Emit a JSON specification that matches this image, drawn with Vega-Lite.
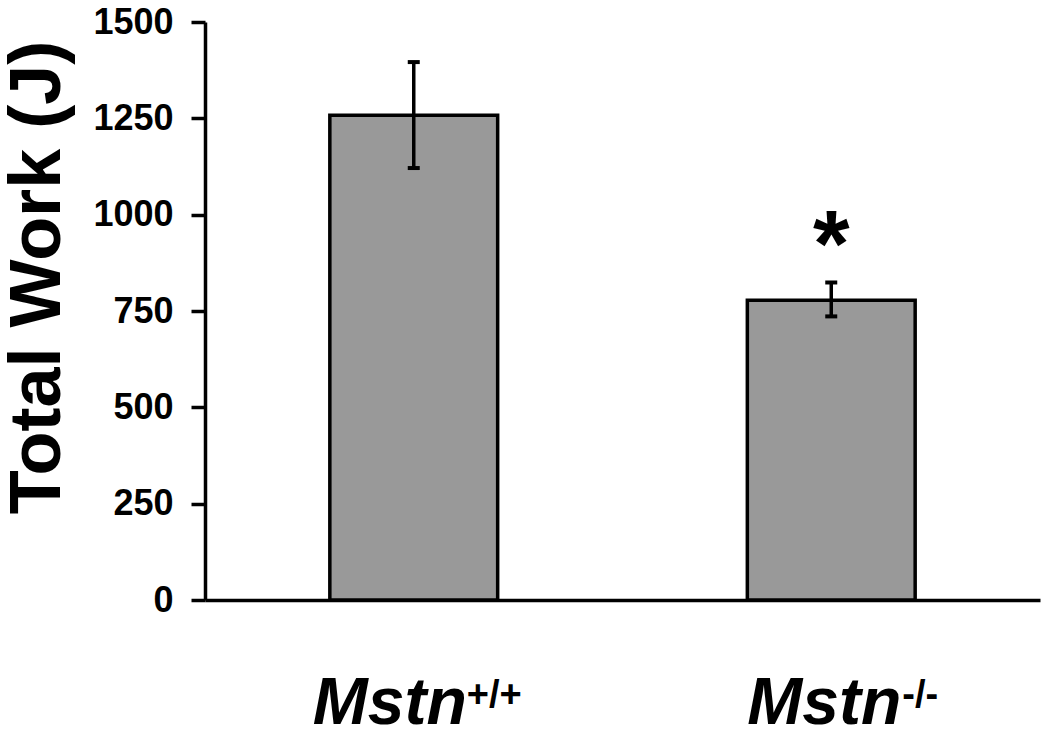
{
  "$schema": "https://vega.github.io/schema/vega-lite/v6.json",
  "width": 835,
  "height": 578,
  "autosize": {"type": "none"},
  "padding": {"left": 205, "top": 22, "right": 10, "bottom": 131},
  "background": "white",
  "config": {"view": {"stroke": null}, "font": "Liberation Sans"},
  "data": {"values": [
    {"genotype": "+/+", "work": 1258, "lower": 1121, "upper": 1396, "sig": ""},
    {"genotype": "-/-", "work": 778, "lower": 736, "upper": 824, "sig": "*"}
  ]},
  "resolve": {"axis": {"x": "independent"}},
  "layer": [
    {
      "mark": {"type": "bar", "fill": "#999999", "stroke": "black", "strokeWidth": 3.5},
      "encoding": {
        "x": {"field": "genotype", "type": "nominal", "sort": null,
          "scale": {"paddingInner": 0.598, "paddingOuter": 0.299},
          "axis": {"orient": "bottom", "title": null, "ticks": false, "domain": true, "domainWidth": 3.5, "domainColor": "black",
            "labelExpr": "'Mstn'", "labelAngle": 0, "labelAlign": "right", "labelBaseline": "alphabetic",
            "labelFont": "Liberation Sans", "labelFontSize": 66, "labelFontWeight": "bold", "labelFontStyle": "italic", "labelColor": "black",
            "labelPadding": 123,
            "labelOffset": {"condition": {"test": "datum.value === '-/-'", "value": 70}, "value": 53}}},
        "y": {"field": "work", "type": "quantitative",
          "scale": {"domain": [0, 1500], "nice": false},
          "axis": {"title": "Total Work (J)", "values": [0, 250, 500, 750, 1000, 1250, 1500], "format": "d", "grid": false,
            "domainWidth": 3.5, "domainColor": "black", "tickWidth": 3.5, "tickColor": "black", "tickSize": 14,
            "labelFont": "Liberation Sans", "labelFontSize": 36, "labelFontWeight": "bold", "labelColor": "black", "labelPadding": 18,
            "titleFont": "Liberation Sans", "titleFontSize": 72, "titleFontWeight": "bold", "titleColor": "black", "titlePadding": 18, "titleY": 255}}
      }
    },
    {
      "mark": {"type": "rule", "stroke": "black", "strokeWidth": 3.5},
      "encoding": {
        "x": {"field": "genotype", "type": "nominal", "sort": null,
          "axis": {"orient": "bottom", "title": null, "ticks": false, "domain": false,
            "labelAngle": 0, "labelAlign": "left", "labelBaseline": "alphabetic",
            "labelFont": "Liberation Sans", "labelFontSize": 38, "labelFontWeight": "bold", "labelColor": "black",
            "labelPadding": 106,
            "labelOffset": {"condition": {"test": "datum.value === '-/-'", "value": 71}, "value": 53}}},
        "y": {"field": "lower", "type": "quantitative"},
        "y2": {"field": "upper"}
      }
    },
    {
      "mark": {"type": "tick", "color": "black", "thickness": 4, "size": 12, "orient": "horizontal", "opacity": 1},
      "encoding": {
        "x": {"field": "genotype", "type": "nominal", "sort": null, "axis": null},
        "y": {"field": "upper", "type": "quantitative"}
      }
    },
    {
      "mark": {"type": "tick", "color": "black", "thickness": 4, "size": 12, "orient": "horizontal", "opacity": 1},
      "encoding": {
        "x": {"field": "genotype", "type": "nominal", "sort": null, "axis": null},
        "y": {"field": "lower", "type": "quantitative"}
      }
    },
    {
      "mark": {"type": "text", "font": "Liberation Sans", "fontWeight": "bold", "fontSize": 94, "color": "black", "baseline": "alphabetic", "align": "center", "dy": -6},
      "encoding": {
        "x": {"field": "genotype", "type": "nominal", "sort": null, "axis": null},
        "y": {"field": "upper", "type": "quantitative"},
        "text": {"field": "sig"}
      }
    }
  ]
}
